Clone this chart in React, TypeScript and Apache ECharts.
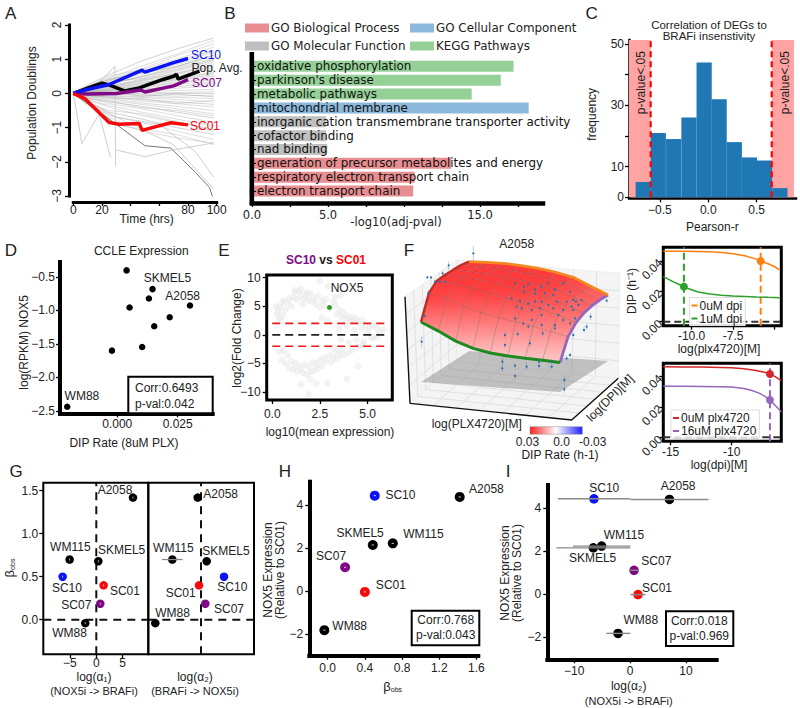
import React, { useEffect, useRef } from "react";
import * as echarts from "echarts";

const SANS = '"Liberation Sans", Arial, sans-serif';
const DJ = '"DejaVu Sans", sans-serif';

// ---------- Panel A ----------
const growthTimes = [0, 10, 25, 48, 72, 98];
const growthLines = [
  [0, .25, .55, .95, 1.3, 1.62], [0, .2, .45, .8, 1.15, 1.55], [0, .22, .4, .72, 1.1, 1.45], [0, .18, .5, .7, 1.0, 1.35],
  [0, .15, .38, .65, .95, 1.25], [0, .12, .35, .6, .9, 1.2], [0, .2, .3, .55, .85, 1.1], [0, .1, .28, .5, .8, 1.05],
  [0, .15, .3, .48, .75, 1.0], [0, .08, .25, .5, .7, .95], [0, .12, .22, .42, .65, .9], [0, .1, .2, .4, .6, .85],
  [0, .14, .18, .38, .58, .8], [0, .05, .2, .35, .55, .75], [0, .09, .15, .3, .5, .7], [0, .1, .17, .28, .45, .62],
  [0, .06, .12, .25, .4, .55], [0, .04, .1, .22, .38, .5], [0, .08, .1, .2, .3, .45], [0, .05, .08, .15, .27, .35],
  [0, .03, .06, .12, .2, .3], [0, .02, .05, .1, .15, .22], [0, .02, .02, .05, .08, .12], [0, -.03, 0, .02, .02, .05],
  [0, .05, .03, -.02, 0, 0], [0, -.02, -.02, -.05, -.08, -.05], [0, -.05, -.05, -.1, -.12, -.15], [0, -.04, -.08, -.12, -.18, -.25],
  [0, -.08, -.1, -.18, -.25, -.32], [0, -.05, -.12, -.22, -.3, -.4], [0, -.1, -.15, -.28, -.38, -.5], [0, -.1, -.2, -.32, -.45, -.6],
  [0, -.15, -.25, -.38, -.55, -.72], [0, -.12, -.3, -.45, -.65, -.85], [0, -.2, -.35, -.55, -.75, -.95], [0, -.18, -.4, -.65, -.85, -1.05],
  [0, -.25, -.55, -.75, -1, -1.2], [0, -.3, -.65, -.85, -1.1, -1.35], [0, -.35, -.6, -1.05, -1.2, -1.5], [0, -.2, -.7, -1.1, -1.3, -1.45],
  [0, .16, .42, .6, .78, 1.12], [0, .1, .33, .44, .68, .98], [0, .04, .14, .33, .42, .6], [0, .07, .09, .18, .34, .4],
  [0, -.02, .04, -.08, -.02, -.1], [0, -.06, -.14, -.15, -.3, -.2], [0, -.14, -.22, -.42, -.5, -.66], [0, -.28, -.5, -.6, -.82, -1.12],
];
const oddGrowthX = [[0, 6, 18, 26], [0, 20, 29, 29.5], [29.5, 50, 70, 98], [0, 30, 50, 70, 98], [0, 30, 60, 85, 98]];
const oddGrowthY = [[0, -1.47, -.6, -1.87], [0, .4, .8, -2.13], [-1.65, -1.85, -1.65, -1.45], [0, -.9, -1.1, -1.5, -2.8], [0, -.7, -.9, -1.7, -2.45]];
const darkGrowthX = [0, 25, 50, 68, 85, 95, 98];
const darkGrowthY = [0, -.75, -1.53, -1.6, -2.3, -2.75, -3.15];
const sc10T = [0, 8, 25, 48, 50, 70, 80], sc10Y = [0, .1, .26, .68, .62, .9, 1.02];
const popT = [0, 10, 20, 25, 36, 46, 62, 70, 72, 73, 88], popY = [0, .15, .3, .25, .07, .16, .4, .5, .56, .42, .65];
const sc07T = [0, 10, 30, 47, 50, 70, 80], sc07Y = [0, -.02, 0, .1, .04, .22, .4];
const sc01T = [0, 8, 25, 32, 46, 48, 55, 68, 80], sc01Y = [0, -.15, -.85, -.9, -.88, -1.08, -1, -.86, -.92];

// ---------- Panel B ----------
const goTerms = ["oxidative phosphorylation", "parkinson's disease", "metabolic pathways", "mitochondrial membrane", "inorganic cation transmembrane transporter activity", "cofactor binding", "nad binding", "generation of precursor metabolites and energy", "respiratory electron transport chain", "electron transport chain"];
const goBP = [null, null, null, null, null, null, null, 13.1, 10.7, 10.6];
const goCC = [null, null, null, 18.2, null, null, null, null, null, null];
const goMF = [null, null, null, null, 4.87, 4.87, 4.95, null, null, null];
const kegg = [17.2, 16.36, 14.45, null, null, null, null, null, null, null];

// ---------- Panel C ----------
const histCentres = [-.673, -.517, -.358, -.2, -.043, .112, .269, .425, .581, .74];
const histCounts = [5, 21, 19, 26, 44, 32, 18, 13, 12, 3];

// ---------- Panel D ----------
const ccleX = [.00386, .0146, .0131, .0051, .0301, .0217, .0153, .0103, -.0022, -.0207];
const ccleY = [-.405, -.684, -.824, -.958, -.928, -1.103, -1.237, -1.546, -1.601, -2.438];
const ccleNames = ["", "SKMEL5", "", "", "A2058", "", "", "", "", "WM88"];

// ---------- Panel E ----------
const maX = [.2, .25, .3, .35, .4, .45, .5, .55, .6, .7, .8, .9, 1, 1.1, 1.2, 1.3, 1.4, 1.5, 1.6, 1.7, 1.8, 1.9, 2, 2.1, 2.2, 2.3, 2.4, 2.5, 2.6, 2.7, 2.8, 3, 3.2, 3.3, 3.4, 3.5, 3.6, 3.7, 3.8, 3.9, 4, 4.1, 4.2, 4.3, 4.4, 4.5, 4.7, 4.9, 5.1, 5.3, 5.5, 5.8,
  2.5, 2.9, 3.3, 3.6, 1.2, 1.5, 1.8,
  .4, .5, .6, .7, .8, .9, 1, 1.1, 1.2, 1.3, 1.4, 1.5, 1.6, 1.7, 1.8, 1.9, 2, 2.1, 2.2, 2.3, 2.4, 2.5, 2.6, 2.7, 2.8, 3, 3.1, 3.2, 3.3, 3.4, 3.5, 3.6, 3.7, 3.8, 4, 4.2, 4.4, 4.6, 4.8,
  1.5, 2, 2.3, 2.9, 1.9, 3.9, 4.5,
  3.5, 3.9, 4.3, 4.7, 5, 5.3, 5.6, 3.6, 4, 4.4, 4.8, 5.2, 5.5, 3.2, 2.9, 2.6];
const maY = [5, 3.6, 4.2, 3, 4.8, 2.6, 5.6, 3.4, 6, 4.4, 5.6, 6.4, 5, 6.6, 7.5, 6.2, 7.6, 6.8, 5.4, 6.4, 7, 6, 7.2, 5.8, 6.4, 5.4, 6.8, 4.8, 6, 5.2, 6.2, 4.6, 5.8, 5.2, 3.6, 4.4, 3.2, 4, 2.8, 3.4, 2.8, 2.4, 3.2, 2.4, 2.8, 2.2, 2.6, 1.8, 1.4, 1.6, 1.2, .9,
  9.4, 8.5, 6.7, 7, 7.8, 8, 7.4,
  -3, -4.4, -2.8, -5, -3.6, -5.8, -4.6, -6, -5, -6.4, -5.4, -6, -6.6, -5.2, -7, -5.6, -6.5, -4.8, -6.2, -5, -5.8, -4.4, -5.4, -4, -4.6, -3.6, -4.8, -4, -3, -4.2, -2.8, -3.6, -2.4, -3.4, -3, -2.6, -2.2, -2, -1.8,
  -8.7, -7.8, -8.5, -8.5, -10.4, -7.7, -5.5,
  1, 1.5, .8, 1.2, .6, -.6, .4, -.8, -1.3, -.9, -1.2, -.5, -.3, -2.2, 2.4, 3];

// ---------- Panel F ----------
const dipSurface = [
  [.030, .0261, .0217, .0187, .017, .0161, .0156, .0152, .0147],
  [.042, .0395, .0365, .034, .032, .0305, .029, .027, .025],
  [.0455, .0445, .043, .041, .039, .037, .035, .0325, .0295],
  [.0457, .0452, .0445, .0432, .0415, .0398, .038, .035, .0318],
  [.0457, .0455, .045, .044, .0428, .0412, .0392, .0362, .0328],
  [.0455, .0454, .0452, .0445, .0435, .042, .040, .0367, .0332],
  [.0447, .0449, .0451, .0446, .0438, .0425, .0406, .0368, .033],
];
const viewDotsX = [760, 686, 668, 622, 633, 645, 660, 676, 625, 614, 605, 885, 912, 925, 945, 965, 985, 1005, 1030, 912, 945, 975, 1000, 1050, 875, 900, 925, 945, 965, 985, 1010, 1040, 1060, 890, 905, 935, 960, 1000, 1030, 1060, 1075, 885, 935, 965, 1015, 1030, 910, 925, 965, 1005, 1050, 1065, 855, 893, 930, 968, 1005, 855, 847, 847, 885, 885, 920, 957, 957, 995, 995, 1033, 1033, 1050, 1040, 1055, 1068, 1085, 1112, 1100, 1092, 1160, 1060];
const viewDotsY = [70, 106, 130, 142, 142, 155, 155, 155, 190, 258, 335, 160, 170, 163, 178, 170, 160, 178, 160, 185, 190, 190, 195, 185, 205, 212, 220, 215, 215, 225, 215, 215, 210, 230, 235, 240, 235, 235, 240, 240, 225, 265, 270, 255, 255, 270, 280, 290, 285, 285, 280, 265, 315, 312, 340, 310, 295, 345, 395, 415, 407, 438, 410, 395, 408, 395, 410, 450, 478, 375, 385, 230, 215, 210, 260, 290, 300, 212, 315];
const viewDotsErr = [22, 12, 8, 5, 5, 6, 6, 6, 10, 8, 18, 6, 8, 5, 7, 6, 5, 7, 5, 8, 7, 6, 6, 5, 10, 7, 6, 8, 6, 7, 6, 6, 5, 8, 7, 6, 6, 6, 7, 6, 5, 8, 6, 7, 6, 8, 9, 7, 8, 9, 6, 6, 12, 8, 10, 9, 7, 9, 10, 10, 8, 8, 10, 8, 8, 8, 8, 14, 10, 6, 6, 6, 5, 5, 10, 8, 8, 5, 7];
const doseLogPlx = [-11.7, -11, -10.3, -9.6, -8.9, -8.2, -7.5, -6.8, -6.1, -5.4, -5.0, -4.7];
const orangeDip = [.0464, .0464, .0464, .0463, .0461, .0456, .0448, .0434, .0412, .0382, .0362, .0341];
const greenDip = [.0297, .0258, .0222, .0196, .0182, .0174, .0169, .0166, .0163, .0161, .016, .0158];
const doseLogDpi = [-15.6, -14, -12.5, -11, -10, -9, -8.4, -7.8, -7.3, -6.86, -6.4, -5.93];
const redDip = [.0466, .0464, .0463, .0461, .0459, .0452, .0445, .0437, .0429, .0418, .0398, .0374];
const purpleDip = [.0336, .0336, .0335, .0334, .0332, .0322, .031, .0293, .0272, .0246, .0208, .0169];

// ---------- Panels G, H, I ----------
const lines = ["A2058", "WM115", "SKMEL5", "SC10", "SC01", "SC07", "WM88"];
const lineColors = ["#000", "#000", "#000", "#0b12f5", "#f5090c", "#800a85", "#000"];
const gAlpha1 = [6.96, -5.06, .38, -6.39, 1.39, .76, -2.09];
const gAlpha2 = [-.63, -5.44, 1.08, 4.37, -.38, .82, -8.67];
const beta = [1.42, .70, .68, .50, .40, .186, -.04];
const hX = [1.42, .70, .485, .506, .40, .187, -.036];
const hY = [4.39, 2.23, 2.155, 4.45, -.03, 1.116, -1.81];
const iX = [7.05, -5.08, -6.57, -6.45, 1.43, .72, -2.15];
const iY = [4.39, 2.23, 2.15, 4.42, -.015, 1.11, -1.81];
const iLow = [.06, -10.2, -13.2, -12.9, .06, .06, -4.24];
const iHigh = [14.04, .06, .06, .06, 2.8, 1.43, .06];

const g1Off = [[-18, -7.7], [.7, -12.7], [23.3, -11.7], [4.3, 11], [21.3, 5.3], [-24, 1.3], [-15.7, 10.3]];
const g2Off = [[23, -4], [1, -11.7], [19.3, -10], [8.3, 10.3], [-18.3, 8], [23.7, 5], [17.3, -9.7]];
const hOff = [[26.7, -8.3], [30.7, -9.7], [-12.7, -11.7], [25.7, -.7], [26, -7.3], [-14, -11], [25.3, -3.7]];
const iOff = [[8.7, -13.3], [22.3, -10.7], [-.7, 10], [10.3, -11.3], [19, -7], [22.3, -9.7], [22.7, -13]];

const grids: any[] = [], xAxes: any[] = [], yAxes: any[] = [], series: any[] = [];

function axis(dim: string, gi: number, a: any) {
  const fmt = (v: number) => {
    const s = v.toFixed(a.dec ?? 0);
    return a.hyphen ? s : s.replace("-", "\u2212");
  };
  return {
    type: "value", gridIndex: gi, min: a.min, max: a.max, show: a.show !== false, inverse: !!a.inverse,
    position: dim === "x" ? "bottom" : "left", offset: a.offset || 0, splitLine: { show: false },
    axisLine: { show: !!a.lw, onZero: false, lineStyle: { width: a.lw || 1, color: "#000", cap: "square" } },
    axisTick: { show: a.ticks !== undefined, customValues: a.ticks || [], length: a.tickLen ?? 4, lineStyle: { width: a.tickW || 1.3, color: "#000" } },
    axisLabel: { show: a.labels !== undefined, customValues: a.labels || [], formatter: fmt, fontFamily: a.font || SANS, fontSize: a.size || 12, color: "#222", rotate: a.rotate || 0, margin: a.margin ?? 4 },
  };
}
function panel(x0: number, y0: number, x1: number, y1: number, x: any, y: any, box = 0) {
  const gi = grids.length;
  grids.push({ left: x0, top: y0, width: x1 - x0, height: y1 - y0, show: box > 0, borderColor: "#000", borderWidth: box, backgroundColor: "transparent" });
  xAxes.push(axis("x", gi, x));
  yAxes.push(axis("y", gi, y));
  return gi;
}
function seg(gi: number, xs: number[], ys: number[], color: string, width: number, dash: any = "solid", z = 2, name?: string) {
  series.push({
    type: "line", name, xAxisIndex: gi, yAxisIndex: gi, data: xs.map((x, i) => [x, ys[i]]), showSymbol: false, symbol: "none", color,
    lineStyle: { color, width, type: dash }, z,
  });
  return series[series.length - 1];
}
function dots(gi: number, names: string[], xs: number[], ys: number[], colors: any, offs: any[], size: number, z = 5, labelSize = 12) {
  series.push({
    type: "scatter", xAxisIndex: gi, yAxisIndex: gi, symbolSize: size, z,
    data: xs.map((x, i) => ({
      name: names[i], value: [x, ys[i]],
      itemStyle: { color: Array.isArray(colors) ? colors[i] : colors, opacity: 1 },
      label: names[i] && offs[i] ? { show: true, formatter: names[i], position: "inside", offset: offs[i], color: "#222", fontSize: labelSize, fontFamily: SANS } : { show: false },
    })),
  });
}

// ----- A -----
const ga = panel(73.3, 25, 216.7, 196,
  { min: 0, max: 100, ticks: [0, 20, 40, 60, 80, 100], labels: [0, 20, 80, 100], offset: 6, lw: 3, margin: 2 },
  { min: -3, max: 2, ticks: [-3, -2, -1, 0, 1, 2], labels: [-3, -2, -1, 0, 1, 2], offset: 4.3, lw: 3, rotate: 90, margin: 6 });
growthLines.forEach((l, k) => seg(ga, growthTimes, l, k % 4 === 0 ? "rgba(130,130,130,.4)" : "rgba(185,185,185,.55)", .9));
oddGrowthX.forEach((xs, k) => seg(ga, xs, oddGrowthY[k], "rgba(195,195,195,.8)", 1));
seg(ga, darkGrowthX, darkGrowthY, "#777", 1);
const endL = (s: any, text: string, color: string, off: number[]) => {
  s.endLabel = { show: true, formatter: text, color, fontSize: 12, fontFamily: SANS, offset: off, distance: 2 };
};
endL(seg(ga, popT, popY, "#000", 3.5, "solid", 6), "Pop. Avg.", "#222", [-10, -3]);
endL(seg(ga, sc07T, sc07Y, "#800a85", 3.5, "solid", 6), "SC07", "#800a85", [2, 3]);
endL(seg(ga, sc10T, sc10Y, "#0b12f5", 3.5, "solid", 6), "SC10", "#0b12f5", [1, -4]);
endL(seg(ga, sc01T, sc01Y, "#f5090c", 3.5, "solid", 6), "SC01", "#f5090c", [0, 1]);

// ----- B -----
const gb = panel(252, 59.4, 543, 198, { min: 0, max: 19.14, ticks: [0, 2.5, 5, 7.5, 10, 12.5, 15, 17.5], labels: [0, 5, 15], dec: 1, offset: 5, lw: 4.5, font: DJ, size: 11.5, margin: 6 }, {});
yAxes[gb] = {
  type: "category", gridIndex: gb, data: goTerms, inverse: true, z: 8,
  axisLine: { show: false, onZero: false }, axisTick: { show: true, inside: true, length: 4, alignWithLabel: true, lineStyle: { color: "#000", width: 1.2 } },
  axisLabel: { inside: true, interval: 0, margin: 5, color: "#111", fontFamily: DJ, fontSize: 11.9 }, splitLine: { show: false },
};
[["GO Biological Process", goBP, "#e98e90"], ["GO Cellular Component", goCC, "#8cb9db"], ["GO Molecular Function", goMF, "#bfbfbf"], ["KEGG Pathways", kegg, "#95d096"]].forEach(([n, d, c]: any) => {
  series.push({ type: "bar", name: n, xAxisIndex: gb, yAxisIndex: gb, data: d, barWidth: 11, barGap: "-100%", color: c, itemStyle: { color: c } });
});

// ----- C -----
const gc = panel(629, 40, 796, 197.3,
  { min: -.82, max: .907, ticks: [-.5, 0, .5], labels: [-.5, 0, .5], dec: 1, offset: 1, lw: 2.5, margin: 6 },
  { min: 0, max: 51.3, ticks: [0, 10, 20, 30, 40, 50], labels: [0, 10, 30, 50], lw: 2.5, margin: 5 });
series.push({
  type: "bar", xAxisIndex: gc, yAxisIndex: gc, data: histCentres.map((x, i) => [x, histCounts[i]]), barWidth: 15.2, color: "#1f77b4",
  itemStyle: { color: "#1f77b4" }, z: 3,
  markArea: { silent: true, itemStyle: { color: "#ffa3a3" }, data: [[{ xAxis: -.82 }, { xAxis: -.596 }], [{ xAxis: .656 }, { xAxis: .886 }]] },
});
seg(gc, [-.596, -.596], [0, 51.3], "#f00", 2.2, [6, 4], 4);
seg(gc, [.656, .656], [0, 51.3], "#f00", 2.2, [6, 4], 4);

// ----- D -----
const gd = panel(60, 262, 212.7, 413.3,
  { min: -.0237, max: .0395, ticks: [0, .025], labels: [0, .025], dec: 3, lw: 4, margin: 5 },
  { min: -2.535, max: -.28, ticks: [-2.5, -2, -1.5, -1, -.5], labels: [-2.5, -2, -1.5, -1, -.5], dec: 1, lw: 4, margin: 5 });
dots(gd, ccleNames, ccleX, ccleY, "#000", [null, [15, -10.7], null, null, [-7.3, -9], null, null, null, null, [14.7, -11]], 6.5);

// ----- E -----
const ge = panel(266.7, 275, 392.3, 400,
  { min: -.29, max: 6.29, ticks: [0, 2.5, 5], labels: [0, 2.5, 5], dec: 1, margin: 8 },
  { min: -11.4, max: 10.47, ticks: [-10, -5, 0, 5, 10], labels: [-10, -5, 0, 5, 10], margin: 6 }, 3);
series.push({ type: "scatter", xAxisIndex: ge, yAxisIndex: ge, symbolSize: 6, z: 2, data: maX.map((x, i) => [x, maY[i]]), itemStyle: { color: "rgba(235,235,235,.75)", borderColor: "rgba(222,222,222,.5)", borderWidth: .5 } });
seg(ge, [0, 6], [2, 2], "#f01818", 1.6, [8, 5], 4);
seg(ge, [0, 6], [-2, -2], "#f01818", 1.6, [8, 5], 4);
seg(ge, [0, 6], [0, 0], "#222", 1.8, [8, 5], 4);
dots(ge, ["NOX5"], [3], [4.8], "#2ca02c", [[17.5, -19]], 5);

// ----- F: hidden view plane of the 3D axes -----
const gf = panel(220, 230, 220 + 1250 / 3, 460, { min: 0, max: 1250, show: false }, { min: 0, max: 690, inverse: true, show: false });
const project = (u: number, v: number, z: number) => [603 + 417 * u + 144 * v, 456 + 30 * u - 93 * v - 6000 * z];
const paneQuads = [
  [[570, 520], [1055, 570], [1195, 445], [710, 395]],
  [[570, 520], [710, 395], [710, 90], [555, 200]],
  [[710, 395], [1195, 445], [1200, 130], [710, 90]],
];
const lerp = (a: number[], b: number[], t: number) => [a[0] + (b[0] - a[0]) * t, a[1] + (b[1] - a[1]) * t];
const paneLines: number[][][] = [];
paneQuads.forEach((q, k) => {
  const n = k === 1 ? 6 : 7, m = 6;
  for (let i = 1; i < n; i++) paneLines.push([lerp(q[0], q[1], i / n), lerp(q[3], q[2], i / n)]);
  for (let j = 1; j < m; j++) paneLines.push([lerp(q[0], q[3], j / m), lerp(q[1], q[2], j / m)]);
});
series.push({
  type: "custom", xAxisIndex: gf, yAxisIndex: gf, z: 1, clip: false, data: paneQuads.map((_, i) => [i, 0]),
  renderItem: (_p: any, api: any) => ({ type: "polygon", shape: { points: paneQuads[api.value(0)].map((c) => api.coord(c)) }, style: { fill: "#f4f4f4", stroke: "#e8e8e8", lineWidth: .6 } }),
});
series.push({
  type: "custom", xAxisIndex: gf, yAxisIndex: gf, z: 1, clip: false, data: paneLines.map((_, i) => [i, 0]),
  renderItem: (_p: any, api: any) => {
    const l = paneLines[api.value(0)], a = api.coord(l[0]), b = api.coord(l[1]);
    return { type: "line", shape: { x1: a[0], y1: a[1], x2: b[0], y2: b[1] }, style: { stroke: "#d8d8d8", lineWidth: .7 } };
  },
});
const planeCorners = [project(0, 0, 0), project(1, 0, 0), project(1, 1, 0), project(0, 1, 0)];
series.push({
  type: "custom", xAxisIndex: gf, yAxisIndex: gf, z: 2, clip: false, data: [[0, 0]],
  renderItem: (_p: any, api: any) => ({ type: "polygon", shape: { points: planeCorners.map((c) => api.coord(c)) }, style: { fill: "rgba(120,120,120,.42)" } }),
});
const nV = dipSurface.length, nU = dipSurface[0].length;
const zColor = (z: number) => {
  const t = Math.min(1, Math.max(0, (z - .005) / .037));
  const g = Math.round(48 + (1 - t) * 207);
  return `rgb(255,${g},${g})`;
};
const quads: number[][] = [];
for (let j = nV - 2; j >= 0; j--) for (let i = 0; i < nU - 1; i++) quads.push([i, j]);
series.push({
  type: "custom", xAxisIndex: gf, yAxisIndex: gf, z: 3, clip: false, data: quads,
  renderItem: (_p: any, api: any) => {
    const i = api.value(0), j = api.value(1);
    const corners = [[i, j], [i + 1, j], [i + 1, j + 1], [i, j + 1]];
    const pts = corners.map(([a, b]) => project(a / (nU - 1), b / (nV - 1), dipSurface[b][a]));
    const zs = corners.map(([a, b]) => dipSurface[b][a]);
    const order = pts.map((p, k) => [p[1], zs[k]]).sort((a, b) => a[0] - b[0]);
    return {
      type: "polygon", shape: { points: pts.map((p) => api.coord(p)) },
      style: { fill: { type: "linear", x: 0, y: 0, x2: 0, y2: 1, colorStops: [{ offset: 0, color: zColor(order[0][1]) }, { offset: 1, color: zColor(order[3][1]) }] }, stroke: "rgba(90,70,70,.45)", lineWidth: .5, opacity: .95 },
    };
  },
});
const edge = (pts: number[][], color: string, w: number) => seg(gf, pts.map((p) => p[0]), pts.map((p) => p[1]), color, w, "solid", 4);
edge(dipSurface.map((r, j) => project(0, j / (nV - 1), r[0])), "#c03028", 2.5);
edge(dipSurface.map((r, j) => project(1, j / (nV - 1), r[nU - 1])), "#9467bd", 2.8);
edge(dipSurface[nV - 1].map((z, i) => project(i / (nU - 1), 1, z)), "#f5871f", 2.8);
edge(dipSurface[0].map((z, i) => project(i / (nU - 1), 0, z)), "#1f8a1f", 3);
seg(gf, [555, 570, 1055, 1195], [200, 520, 570, 445], "#111", 1.4, "solid", 4);
series.push({
  type: "custom", xAxisIndex: gf, yAxisIndex: gf, z: 5, clip: false, data: viewDotsX.map((x, i) => [x, viewDotsY[i], viewDotsErr[i]]),
  renderItem: (_p: any, api: any) => {
    const x = api.value(0), y = api.value(1), e = api.value(2);
    const c = api.coord([x, y]), a = api.coord([x, y - e]), b = api.coord([x, y + e]);
    return {
      type: "group", children: [
        { type: "line", shape: { x1: a[0], y1: a[1], x2: b[0], y2: b[1] }, style: { stroke: "rgba(90,120,150,.6)", lineWidth: .6 } },
        { type: "circle", shape: { cx: c[0], cy: c[1], r: 1.1 }, style: { fill: "#1f6fb4" } },
      ],
    };
  },
});

// ----- F small panels -----
const gf1 = panel(663.3, 247.3, 781.3, 325.7,
  { min: -11.7, max: -4.6, ticks: [-10, -7.5, -5], labels: [-10, -7.5], dec: 1, hyphen: true, margin: 4 },
  { min: -.0026, max: .049, ticks: [0, .02, .04], labels: [0, .02, .04], dec: 2, rotate: 45, margin: 3 }, 3);
seg(gf1, [-10.46, -10.46], [-.0026, .049], "#2ca02c", 2, [7, 4], 3);
seg(gf1, [-5.84, -5.84], [-.0026, .049], "#ff7f0e", 2, [7, 4], 3);
seg(gf1, [-11.7, -4.6], [0, 0], "#333", 2, [7, 4], 3);
seg(gf1, doseLogPlx, orangeDip, "#ff7f0e", 1.5, "solid", 4, "0uM dpi");
seg(gf1, doseLogPlx, greenDip, "#2ca02c", 1.5, "solid", 4, "1uM dpi");
dots(gf1, ["", ""], [-5.84, -10.46], [.04, .0231], ["#ff7f0e", "#2ca02c"], [null, null], 8);
const gf2 = panel(663.3, 363.3, 781.3, 441.3,
  { min: -15.6, max: -5.93, ticks: [-15, -10], labels: [-15, -10], hyphen: true, margin: 5 },
  { min: -.0026, max: .0488, ticks: [0, .02, .04], labels: [0, .02, .04], dec: 2, rotate: 45, margin: 3 }, 3);
seg(gf2, [-6.86, -6.86], [-.0026, .0488], "#9467bd", 2, [7, 4], 3);
seg(gf2, [-15.6, -5.93], [0, 0], "#333", 2, [7, 4], 3);
seg(gf2, doseLogDpi, redDip, "#d62728", 1.5, "solid", 4, "0uM plx4720");
seg(gf2, doseLogDpi, purpleDip, "#9467bd", 1.5, "solid", 4, "16uM plx4720");
dots(gf2, ["", ""], [-6.86, -6.86], [.0418, .0246], ["#d62728", "#9467bd"], [null, null], 8);

// ----- G -----
const gg1 = panel(43.3, 482.7, 148.3, 654.3,
  { min: -10.06, max: 9.87, ticks: [-5, 0, 5], labels: [-5, 0, 5], margin: 3 },
  { min: -.402, max: 1.593, ticks: [0, .5, 1, 1.5], labels: [0, .5, 1, 1.5], dec: 1, margin: 5 }, 2);
seg(gg1, [0, 0], [-.402, 1.593], "#111", 2, [8, 6], 3);
seg(gg1, [-10.06, 9.87], [0, 0], "#111", 2, [8, 6], 3);
dots(gg1, lines, gAlpha1, beta, lineColors, g1Off, 8.5);
gAlpha1.forEach((x, k) => seg(gg1, [x, x], [beta[k] - .012, beta[k] + .012], "#aaa", 1, "solid", 6));
const gg2 = panel(148.3, 482.7, 254, 654.3, { min: -10, max: 10.06, show: false }, { min: -.402, max: 1.593, show: false }, 2);
seg(gg2, [0, 0], [-.402, 1.593], "#111", 2, [8, 6], 3);
seg(gg2, [-10, 10.06], [0, 0], "#111", 2, [8, 6], 3);
dots(gg2, lines, gAlpha2, beta, lineColors, g2Off, 8.5);
seg(gg2, [-7.4, -3.48], [.7, .7], "#888", 1.3, "solid", 6);

// ----- H -----
const gh = panel(309.3, 481.7, 478.3, 655.7,
  { min: -.198, max: 1.62, ticks: [0, .4, .8, 1.2, 1.6], labels: [0, .4, .8, 1.2, 1.6], dec: 1, lw: 4, margin: 6 },
  { min: -3, max: 5.1, ticks: [-2, 0, 2, 4], labels: [-2, 0, 2, 4], lw: 4, margin: 6 });
dots(gh, lines, hX, hY, lineColors, hOff, 10);
hX.forEach((x, k) => seg(gh, [x - .012, x + .012], [hY[k], hY[k]], "#ccc", 1, "solid", 6));

// ----- I -----
const gi = panel(547.3, 485, 716.7, 659.3,
  { min: -14.8, max: 15.5, ticks: [-10, 0, 10], labels: [-10, 0, 10], lw: 4, margin: 6 },
  { min: -3.01, max: 5.06, ticks: [-2, 0, 2, 4], labels: [-2, 0, 2, 4], lw: 4, margin: 6 });
dots(gi, lines, iX, iY, lineColors, iOff, 9.5);
iLow.forEach((lo, k) => seg(gi, [lo, iHigh[k]], [iY[k], iY[k]], "#8a8a8a", 1.4, "solid", 6));

// ---------- text + frames ----------
function txt(x: number, y: number, text: string, o: any = {}) {
  return {
    type: "text", x, y, rotation: o.rot || 0, z: 100,
    style: { text, align: o.align || "center", verticalAlign: "middle", fontFamily: o.font || SANS, fontSize: o.size || 12, fontWeight: o.weight || "normal", fill: o.fill || "#222", lineHeight: o.lh, rich: o.rich },
  };
}
const box = (x0: number, y0: number, x1: number, y1: number) => ({ type: "rect", z: 99, shape: { x: x0, y: y0, width: x1 - x0, height: y1 - y0 }, style: { fill: "#fff", stroke: "#000", lineWidth: 2 } });
const R90 = Math.PI / 2;
const betaRich = { a: { fontFamily: SANS, fontSize: 13, fill: "#222" }, b: { fontFamily: SANS, fontSize: 7, fill: "#222", padding: [5, 0, 0, 0] } };
const graphics: any[] = [
  ...[["A", 10.7, 13], ["B", 230, 13], ["C", 591.7, 13], ["D", 11, 250], ["E", 224, 250], ["F", 409, 250], ["G", 16, 471], ["H", 285, 471], ["I", 508, 471]].map(([t, x, y]: any) => txt(x, y, t, { size: 17 })),
  txt(31.7, 103, "Population Doublings", { rot: R90 }),
  txt(146.7, 219.3, "Time (hrs)"),
  txt(396, 222, "-log10(adj-pval)", { size: 11.5, font: DJ }),
  { type: "rect", z: 50, shape: { x: 249.5, y: 52, width: 4.6, height: 153 }, style: { fill: "#000" } },
  txt(709, 30.5, "Correlation of DEGs to\nBRAFi insenstivity", { size: 11.5, lh: 11.5 }),
  txt(640.7, 82.7, "p-value<.05", { rot: R90 }),
  txt(785, 82.7, "p-value<.05", { rot: R90 }),
  txt(591.7, 114.3, "frequency", { rot: R90 }),
  txt(712.3, 226.7, "Pearson-r"),
  txt(141.3, 250.7, "CCLE Expression"),
  txt(124, 442.7, "DIP Rate (8uM PLX)"),
  txt(24, 342.3, "log(RPKM) NOX5", { rot: R90 }),
  box(128.3, 376.7, 212.7, 413.3),
  txt(135, 388.3, "Corr:0.6493", { align: "left" }),
  txt(135, 404, "p-val:0.042", { align: "left" }),
  { type: "text", x: 326, y: 259.7, z: 100, style: { text: "{p|SC10} {k|vs} {r|SC01}", align: "center", verticalAlign: "middle", rich: { p: { fill: "#800a85", fontWeight: "bold", fontSize: 12, fontFamily: SANS }, k: { fill: "#222", fontWeight: "bold", fontSize: 12, fontFamily: SANS }, r: { fill: "#f00", fontWeight: "bold", fontSize: 12, fontFamily: SANS } } } },
  txt(236.7, 338, "log2(Fold Change)", { rot: R90 }),
  txt(330, 432.3, "log10(mean expression)"),
  txt(516.7, 244, "A2058"),
  txt(476.7, 424, "log(PLX4720)[M]"),
  txt(610, 398, "log(DPI)[M]", { rot: Math.PI / 4 }),
  { type: "rect", z: 100, shape: { x: 530, y: 426.7, width: 52.3, height: 7.5 }, style: { stroke: "#888", lineWidth: .5, fill: { type: "linear", x: 0, y: 0, x2: 1, y2: 0, colorStops: [{ offset: 0, color: "#ff2020" }, { offset: .5, color: "#ffffff" }, { offset: 1, color: "#2020ff" }] } } },
  txt(527.5, 442.3, "0.03"), txt(561.5, 442.3, "0.0"), txt(592.7, 442.3, "-0.03"),
  txt(560, 455, "DIP Rate (h-1)"),
  txt(631.7, 291, "DIP (h\u207B\u00B9)", { rot: R90 }),
  txt(719, 349, "log(plx4720)[M]"),
  txt(719, 465, "log(dpi)[M]"),
  { type: "text", x: 9.5, y: 568, rotation: R90, z: 100, style: { text: "{a|\u03B2}{b|obs}", align: "center", verticalAlign: "middle", rich: betaRich } },
  txt(94, 677, "log(\u03B1\u2081)"), txt(94, 691, "(NOX5i -> BRAFi)", { size: 11 }),
  txt(195, 677, "log(\u03B1\u2082)"), txt(195, 691, "(BRAFi -> NOX5i)", { size: 11 }),
  txt(274, 570, "NOX5 Expression\n(Relative to SC01)", { rot: R90, lh: 12 }),
  { type: "text", x: 392.7, y: 686.7, z: 100, style: { text: "{a|\u03B2}{b|obs}", align: "center", verticalAlign: "middle", rich: betaRich } },
  box(411.7, 610.7, 479.3, 645.3),
  txt(445.7, 620.3, "Corr:0.768"), txt(445.7, 635, "p-val:0.043"),
  txt(510.7, 573, "NOX5 Expression\n(Relative to SC01)", { rot: R90, lh: 12 }),
  txt(628.7, 686, "log(\u03B1\u2082)"), txt(628.7, 700.5, "(NOX5i -> BRAFi)", { size: 11 }),
  box(666, 611.3, 733.3, 646),
  txt(699.3, 621, "Corr:0.018"), txt(699.3, 635.5, "p-val:0.969"),
];

const legendItem = (name: string, left: number, top: number) => ({
  data: [name], left, top, orient: "horizontal", padding: 0, itemWidth: 24, itemHeight: 9, icon: "rect", selectedMode: false,
  textStyle: { fontFamily: DJ, fontSize: 11.9, color: "#222", padding: [0, 0, 0, -3] },
});
const legendBox = (names: string[], left: number, top: number) => ({
  data: names, left, top, orient: "vertical", padding: [2, 3, 1, 2], itemGap: 1, itemWidth: 6, itemHeight: 2, icon: "rect", selectedMode: false, z: 20,
  backgroundColor: "rgba(255,255,255,.85)", borderColor: "#ddd", borderWidth: 1,
  textStyle: { fontFamily: SANS, fontSize: 12, color: "#222", padding: [0, 0, 0, -3] },
});

export default function App() {
  const ref = useRef<HTMLDivElement>(null);
  useEffect(() => {
    const chart = echarts.init(ref.current, undefined, { renderer: "svg" });
    chart.setOption({
      animation: false, backgroundColor: "#fff", grid: grids, xAxis: xAxes, yAxis: yAxes, series, graphic: { elements: graphics },
      legend: [
        legendItem("GO Biological Process", 245, 22),
        legendItem("GO Cellular Component", 410, 22),
        legendItem("GO Molecular Function", 245, 40),
        legendItem("KEGG Pathways", 410, 40),
        legendBox(["0uM dpi", "1uM dpi"], 689.5, 297.5),
        legendBox(["0uM plx4720", "16uM plx4720"], 671, 410),
      ],
    });
    return () => chart.dispose();
  }, []);
  return <div ref={ref} style={{ position: "fixed", left: 0, top: 0, width: 800, height: 708 }} />;
}
